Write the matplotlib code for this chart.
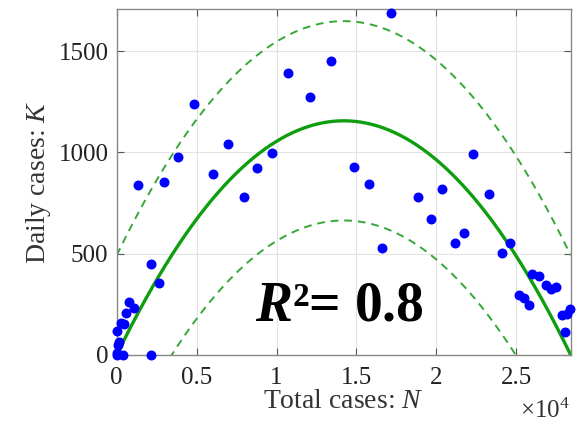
import numpy as np
import matplotlib
matplotlib.use('Agg')
import matplotlib.pyplot as plt
from matplotlib.ticker import FuncFormatter

plt.rcParams['font.family'] = 'Liberation Serif'
plt.rcParams['mathtext.fontset'] = 'custom'
plt.rcParams['mathtext.rm'] = 'Liberation Serif'
plt.rcParams['mathtext.it'] = 'Liberation Serif:italic'
plt.rcParams['mathtext.bf'] = 'Liberation Serif:bold'
plt.rcParams['mathtext.bfit'] = 'Liberation Serif:bold:italic'

# observed points (total cases N, daily cases K)
total_cases = [0, 20, 60, 125, 40, 270, 370, 458, 583, 790, 1060, 1312, 2144, 2144,
               2625, 2977, 3810, 4810, 6040, 6935, 7977, 8790, 9706, 10727, 12081,
               13375, 14831, 15769, 16625, 17163, 18852, 19644, 20331, 21144, 21706,
               22313, 23313, 24100, 24600, 25163, 25475, 25769, 26000, 26413, 26831,
               27163, 27500, 27850, 28063, 28163, 28375]
daily_cases = [0, 10, 50, 66, 120, 156, 0, 151, 209, 263, 230, 839, 447, 0,
               357, 852, 976, 1237, 893, 1043, 778, 924, 998, 1390, 1273,
               1452, 929, 844, 530, 1689, 778, 670, 819, 551, 600,
               993, 796, 502, 554, 296, 280, 245, 398, 392, 344,
               324, 334, 199, 115, 202, 225]

# fitted parabola K = 4*K_peak*(N/N_max)*(1 - N/N_max) and band half-width
k_peak = 1156
n_max = 28400
band = 492

n = np.linspace(0, n_max, 400)
fit = 4 * k_peak * (n / n_max) * (1 - n / n_max)

fig = plt.figure(figsize=(5.76, 4.28), dpi=100)
ax = fig.add_axes([0.2026, 0.1706, 0.7882, 0.8084])

ax.grid(True, color='#e3e3e3', linewidth=0.8)
ax.set_axisbelow(True)
ax.plot(n, fit + band, '--', color='#35a835', linewidth=1.4, dashes=(4, 3))
ax.plot(n, fit - band, '--', color='#35a835', linewidth=1.4, dashes=(4, 3))
ax.plot(n, fit, '-', color='#0e9e0e', linewidth=2.4)
ax.scatter(total_cases, daily_cases, s=38, color='#0000ff', zorder=3, clip_on=False)

ax.set_xlim(0, n_max)
ax.set_ylim(0, 1708)
ax.set_xticks([0, 5000, 10000, 15000, 20000, 25000])
ax.set_yticks([0, 500, 1000, 1500])
ax.xaxis.set_major_formatter(FuncFormatter(lambda v, p: '%g' % (v / 1e4)))
ax.tick_params(direction='in', top=True, right=True, labelsize=18, length=5,
               color='#555555', width=0.8)
ax.tick_params(axis='x', pad=9)
ax.tick_params(axis='y', pad=6)
for s in ax.spines.values():
    s.set_color('#888888')
    s.set_linewidth(1.0)

ax.set_xlabel('Total cases: $\\mathit{N}$', fontsize=20, color='#333333', labelpad=0)
ax.set_ylabel('Daily cases: $\\mathit{K}$', fontsize=20, color='#333333', labelpad=4)
for lbl in ax.get_xticklabels() + ax.get_yticklabels():
    lbl.set_color('#222222')

fig.text(0.99, 0.012, '$\\times\\mathregular{10^4}$', fontsize=18, ha='right', va='bottom',
         color='#333333')

ax.text(0.305, 0.1, '$\\mathbfit{R}$²= 0.8', transform=ax.transAxes,
        fontsize=40, fontweight='bold', ha='left', va='baseline', color='black')

fig.savefig('out.png', dpi=100)
